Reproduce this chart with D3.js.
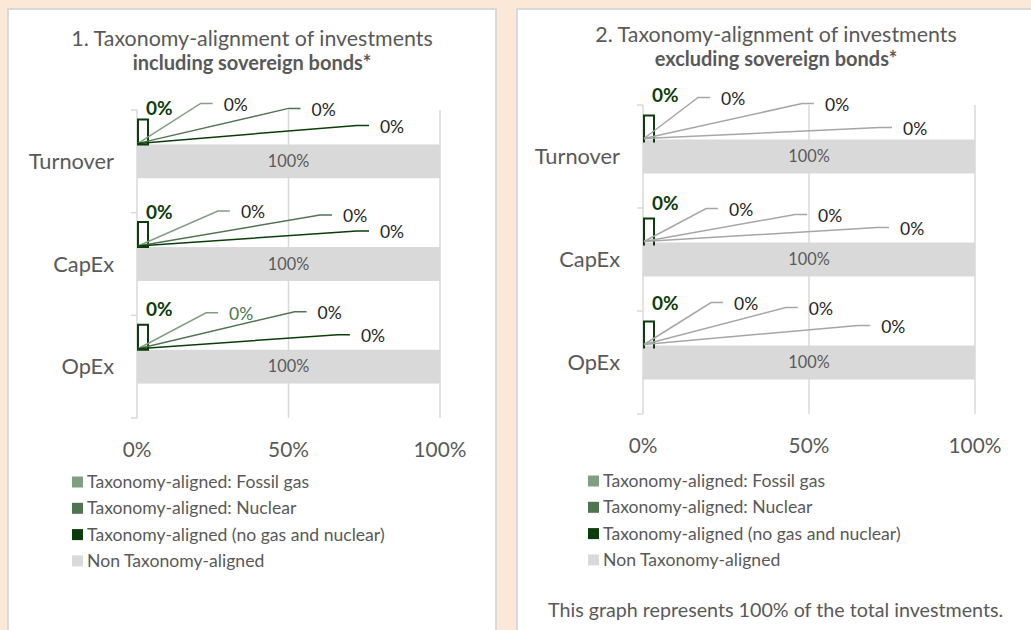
<!DOCTYPE html>
<html>
<head>
<meta charset="utf-8">
<script src="https://cdn.jsdelivr.net/npm/d3@7"></script>
<style>
  body { margin: 0; background: #fbe8d6; }
  text { font-family: Lato, "Open Sans", sans-serif; }
</style>
</head>
<body>
<div id="chart"></div>
<script>
// ---- data ----
const categories = ["Turnover", "CapEx", "OpEx"];
const seriesNames = [
    "Taxonomy-aligned: Fossil gas",
    "Taxonomy-aligned: Nuclear",
    "Taxonomy-aligned (no gas and nuclear)",
    "Non Taxonomy-aligned"
];
const xTicks = [0, 50, 100];

// chart 1: including sovereign bonds
const inclGas = [0, 0, 0];
const inclNuclear = [0, 0, 0];
const inclAligned = [0, 0, 0];
const inclNon = [100, 100, 100];

// chart 2: excluding sovereign bonds
const exclGas = [0, 0, 0];
const exclNuclear = [0, 0, 0];
const exclAligned = [0, 0, 0];
const exclNon = [100, 100, 100];

const titleLines1 = ["1. Taxonomy-alignment of investments", "including sovereign bonds*"];
const titleLines2 = ["2. Taxonomy-alignment of investments", "excluding sovereign bonds*"];
const footnote = "This graph represents 100% of the total investments.";

// where Excel put the leader-line elbows for the small labels (x in %, dy in px above bar)
const leaders1 = [
    [[21, -41], [50, -36], [72.6, -19]],
    [[26.7, -36], [60.4, -32], [72.6, -16]],
    [[22.8, -37], [52, -38], [66.3, -15]]
];
const leaders2 = [
    [[16.6, -42], [47.9, -36], [71.4, -12]],
    [[19, -34], [45.8, -28], [70.5, -15]],
    [[20.5, -43], [43, -38], [64.8, -20]]
];

const colors = ["#7f9f80", "#4f7550", "#0b3d0b", "#d9d9d9"];
const textGrey = "#595959";

const svg = d3.select("#chart").append("svg")
    .attr("width", 1031)
    .attr("height", 630);

svg.append("rect").attr("width", 1031).attr("height", 630).attr("fill", "#fbe8d6");

const fmt = v => d3.format(".0f")(v) + "%";

function drawPanel(p) {
    const g = svg.append("g");

    // panel box
    g.append("rect")
        .attr("x", p.box[0]).attr("y", 9)
        .attr("width", p.box[1] - p.box[0]).attr("height", 640)
        .attr("fill", "#fff")
        .attr("stroke", "#d9d9d9")
        .attr("stroke-width", 2);

    // title
    g.append("text")
        .attr("x", p.titleX).attr("y", p.titleY[0])
        .attr("text-anchor", "middle")
        .attr("font-size", 21.4)
        .attr("fill", textGrey)
        .text(p.title[0]);
    g.append("text")
        .attr("x", p.titleX).attr("y", p.titleY[1])
        .attr("text-anchor", "middle")
        .attr("font-size", 20)
        .attr("font-weight", "bold")
        .attr("fill", textGrey)
        .text(p.title[1]);

    const x = d3.scaleLinear().domain([0, 100]).range(p.xRange);
    const y = d3.scaleBand().domain(categories).range(p.yRange)
        .paddingInner(0.67).paddingOuter(0.335);

    // gridlines
    g.append("g")
        .selectAll("line")
        .data(xTicks.slice(1))
        .join("line")
        .attr("x1", d => x(d)).attr("x2", d => x(d))
        .attr("y1", p.yRange[0]).attr("y2", p.yRange[1])
        .attr("stroke", "#d9d9d9")
        .attr("stroke-width", 1.5);

    // y axis with ticks between categories
    const tickYs = d3.range(categories.length + 1).map(i => p.yRange[0] + i * y.step());
    g.append("line")
        .attr("x1", x(0)).attr("x2", x(0))
        .attr("y1", p.yRange[0]).attr("y2", p.yRange[1])
        .attr("stroke", "#d9d9d9").attr("stroke-width", 1.5);
    g.append("g").selectAll("line")
        .data(tickYs)
        .join("line")
        .attr("x1", x(0) - 6).attr("x2", x(0))
        .attr("y1", d => d).attr("y2", d => d)
        .attr("stroke", "#d9d9d9").attr("stroke-width", 1.5);

    // x tick labels
    g.append("g").selectAll("text")
        .data(xTicks)
        .join("text")
        .attr("x", d => x(d))
        .attr("y", p.yRange[1] + 32)
        .attr("dy", "0.35em")
        .attr("text-anchor", "middle")
        .attr("font-size", 20.8)
        .attr("fill", textGrey)
        .text(fmt);

    // category labels
    g.append("g").selectAll("text")
        .data(categories)
        .join("text")
        .attr("x", x(0) - 23)
        .attr("y", d => y(d) + y.bandwidth() / 2)
        .attr("dy", "0.35em")
        .attr("text-anchor", "end")
        .attr("font-size", 21.8)
        .attr("fill", textGrey)
        .text(d => d);

    // non-aligned bars
    g.append("g").selectAll("rect")
        .data(categories)
        .join("rect")
        .attr("x", x(0))
        .attr("y", d => y(d))
        .attr("width", (d, i) => x(p.non[i]) - x(0))
        .attr("height", y.bandwidth())
        .attr("fill", colors[3]);
    g.append("g").selectAll("text")
        .data(categories)
        .join("text")
        .attr("x", (d, i) => x(p.non[i] / 2))
        .attr("y", d => y(d) + y.bandwidth() / 2)
        .attr("dy", "0.35em")
        .attr("text-anchor", "middle")
        .attr("font-size", 16.3)
        .attr("fill", textGrey)
        .text((d, i) => fmt(p.non[i]));

    // aligned series: zero-width stacked bar shown only by its outline
    const green = [p.gas, p.nuclear, p.aligned];
    categories.forEach((c, i) => {
        const top = y(c);
        const total = green[0][i] + green[1][i] + green[2][i];
        const w = Math.max(x(total) - x(0), 10);
        const h = p.outlineH;
        const bx = x(0) + 1;
        const by = top - h + p.outlineDrop;
        const path = p.openOutline
            ? `M${bx},${by + h}V${by}H${bx + w}V${by + h}`
            : `M${bx},${by + h}V${by}H${bx + w}V${by + h}Z`;
        g.append("path")
            .attr("d", path)
            .attr("fill", "none")
            .attr("stroke", colors[2])
            .attr("stroke-width", 2);

        // bold label for aligned total
        g.append("text")
            .attr("x", x(0) + 9)
            .attr("y", top + p.boldDy[i])
            .attr("dy", "0.35em")
            .attr("font-size", 19)
            .attr("font-weight", "bold")
            .attr("fill", colors[2])
            .text(fmt(green[2][i]));

        // leader lines + labels for each green series
        green.forEach((vals, s) => {
            const [lx, ldy] = p.leaders[i][s];
            const ex = x(lx), ey = top + ldy;
            g.append("path")
                .attr("d", `M${x(0) + 1},${top - 1}L${ex},${ey}H${ex + 12}`)
                .attr("fill", "none")
                .attr("stroke", p.lineColors[s])
                .attr("stroke-width", 1.5);
            g.append("text")
                .attr("x", ex + 23)
                .attr("y", ey + 1)
                .attr("dy", "0.35em")
                .attr("font-size", 17.5)
                .attr("fill", p.labelColors[i][s])
                .text(fmt(vals[i]));
        });
    });

    // legend
    const lg = g.append("g");
    seriesNames.forEach((name, i) => {
        const cy = p.legendY[0] + i * 26.3;
        lg.append("rect")
            .attr("x", p.legendX).attr("y", cy - 5.5)
            .attr("width", 11).attr("height", 11)
            .attr("fill", colors[i]);
        lg.append("text")
            .attr("x", p.legendX + 15).attr("y", cy)
            .attr("dy", "0.35em")
            .attr("font-size", 17.6)
            .attr("fill", textGrey)
            .text(name);
    });

    if (p.footnote) {
        g.append("text")
            .attr("x", p.footnoteX).attr("y", 610)
            .attr("dy", "0.35em")
            .attr("font-size", 19.7)
            .attr("fill", textGrey)
            .text(p.footnote);
    }
}

const dark = "#262626";

drawPanel({
    box: [8, 496],
    titleX: 252, titleY: [46, 70],
    title: titleLines1,
    xRange: [137, 440], yRange: [110, 418],
    gas: inclGas, nuclear: inclNuclear, aligned: inclAligned, non: inclNon,
    leaders: leaders1,
    lineColors: [colors[0], colors[1], colors[2]],
    labelColors: [[dark, dark, dark], [dark, dark, dark], ["#4f7550", dark, dark]],
    boldDy: [-36, -35, -40],
    outlineH: 25, outlineDrop: 0, openOutline: false,
    legendX: 72, legendY: [482],
    footnote: null
});

drawPanel({
    box: [517, 1040],
    titleX: 776, titleY: [42, 66],
    title: titleLines2,
    xRange: [643, 975], yRange: [105, 414],
    gas: exclGas, nuclear: exclNuclear, aligned: exclAligned, non: exclNon,
    leaders: leaders2,
    lineColors: ["#a6a6a6", "#a6a6a6", "#a6a6a6"],
    labelColors: [[dark, dark, dark], [dark, dark, dark], [dark, dark, dark]],
    boldDy: [-44, -39, -42],
    outlineH: 27, outlineDrop: 3, openOutline: true,
    legendX: 588, legendY: [481],
    footnote: footnote, footnoteX: 548
});
</script>
</body>
</html>
